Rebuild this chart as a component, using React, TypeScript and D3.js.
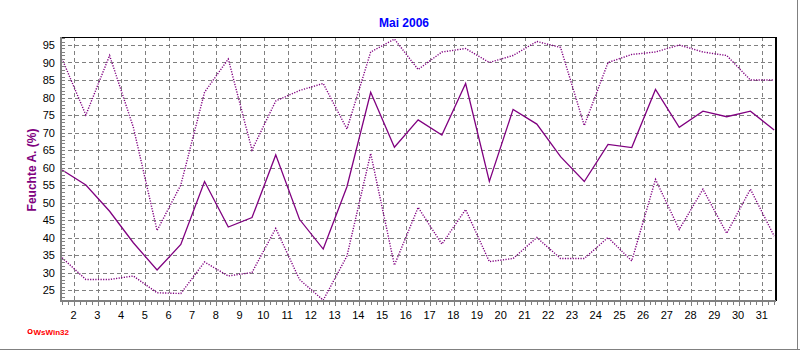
import React from "react";
import * as d3 from "d3";

const days = [1,2,3,4,5,6,7,8,9,10,11,12,13,14,15,16,17,18,19,20,21,22,23,24,25,26,27,28,29,30,31];
const maxVals = [91, 75, 92, 71.5, 42, 55, 81.5, 91, 65, 79, 82, 84, 71, 93, 96.7, 88, 93, 94, 90, 92, 96, 94.3, 72, 90, 92.3, 93, 95, 93, 92, 85, 85];
const meanVals = [59.3, 55, 47.5, 38.5, 30.7, 38, 56, 43, 45.7, 63.6, 45.2, 36.7, 54.5, 81.5, 65.8, 73.6, 69.3, 84, 56, 76.6, 72.4, 63.1, 56, 66.6, 65.7, 82.3, 71.5, 76.1, 74.5, 76.1, 70.7];
const minVals = [34.2, 28, 28, 29, 24.2, 24, 33, 29, 30, 42.6, 28, 22.1, 34.7, 64, 32.1, 48.6, 38.1, 48, 33.1, 34, 40, 34, 34, 40, 33.3, 56.6, 42.3, 53.8, 41.2, 53.8, 40.4];
const yTicks = [25, 30, 35, 40, 45, 50, 55, 60, 65, 70, 75, 80, 85, 90, 95];
const xTicks = [2,3,4,5,6,7,8,9,10,11,12,13,14,15,16,17,18,19,20,21,22,23,24,25,26,27,28,29,30,31];
const title = "Mai 2006";
const yTitle = "Feuchte A. (%)";

const W = 800, H = 350;
const left = 61, right = 775, top = 37, bottom = 300;
const purple = "#800080";
const grey = "#808080";
const font = "'Liberation Sans', Arial, sans-serif";

export default function App() {
  const x = d3.scaleLinear().domain([2, 31]).range([74, 762.3]);
  const y = d3.scaleLinear().domain([25, 95]).range([290, 45]);

  const line = (vals: number[]) =>
    d3.line<number>()
      .x((_, i) => x(days[i] + 0.5))
      .y((v) => y(v))(vals) || "";

  const minorX: number[] = d3.range(1.5, 31.51, 0.25);
  const minorY: number[] = d3.range(23, 98, 1);

  return (
    <svg width={W} height={H} style={{ position: "absolute", left: 0, top: 0, background: "#fff" }}>
      <rect x={0} y={0} width={W} height={H} fill="#fff" />
      {/* title */}
      <text x={404} y={27} textAnchor="middle" fill="#0000ff" fontFamily={font} fontWeight="bold" fontSize={12}>{title}</text>
      {/* grid */}
      <g shapeRendering="crispEdges" stroke={grey} strokeWidth={1} strokeDasharray="4,3">
        {yTicks.map((t) => (
          <line key={"gy" + t} x1={left} x2={right} y1={Math.round(y(t)) + 0.5} y2={Math.round(y(t)) + 0.5} />
        ))}
        {xTicks.map((t) => (
          <line key={"gx" + t} x1={Math.round(x(t)) + 0.5} x2={Math.round(x(t)) + 0.5} y1={top} y2={bottom} />
        ))}
      </g>
      {/* series */}
      <path d={line(maxVals)} fill="none" stroke={purple} strokeWidth={1.4} strokeDasharray="1.2,1.4" />
      <path d={line(minVals)} fill="none" stroke={purple} strokeWidth={1.4} strokeDasharray="1.2,1.4" />
      <path d={line(meanVals)} fill="none" stroke={purple} strokeWidth={1.3} />
      {/* frame */}
      <g shapeRendering="crispEdges">
        <line x1={left} x2={right + 1} y1={top + 0.5} y2={top + 0.5} stroke="#000" strokeWidth={1.5} />
        <line x1={right + 0.5} x2={right + 0.5} y1={top} y2={bottom + 1} stroke="#000" strokeWidth={2} />
        <line x1={left} x2={left} y1={top} y2={bottom + 2} stroke={grey} strokeWidth={2} />
        <line x1={left - 1} x2={right + 1} y1={bottom + 1} y2={bottom + 1} stroke={grey} strokeWidth={2} />
        {minorX.map((t, i) => (
          <line key={"mx" + i} x1={Math.round(x(t)) + 0.5} x2={Math.round(x(t)) + 0.5} y1={bottom + 2} y2={bottom + (Number.isInteger(t) ? 6 : 5)} stroke={grey} strokeWidth={1} />
        ))}
        {minorY.map((t) => (
          <line key={"my" + t} x1={left + 1} x2={left + 4} y1={Math.round(y(t)) + 0.5} y2={Math.round(y(t)) + 0.5} stroke={grey} strokeWidth={1} />
        ))}
      </g>
      {/* y labels */}
      {yTicks.map((t) => (
        <text key={"ly" + t} x={55} y={y(t) + 4} textAnchor="end" fontFamily={font} fontSize={11} fill="#000">{t}</text>
      ))}
      {xTicks.map((t) => (
        <text key={"lx" + t} x={x(t) - 0.5} y={319} textAnchor="middle" fontFamily={font} fontSize={11} fill="#000">{t}</text>
      ))}
      {/* y title */}
      <text transform="translate(36,170) rotate(-90)" textAnchor="middle" fontFamily={font} fontWeight="bold" fontSize={12} fill={purple}>{yTitle}</text>
      {/* logo */}
      <circle cx={30} cy={331.5} r={2} fill="#fff" stroke="#ff0000" strokeWidth={1.2} />
      <text x={33.5} y={334.5} fontFamily={font} fontWeight="bold" fontSize={8} fill="#ff0000">WsWin32</text>
      {/* outer panel edge */}
      <g shapeRendering="crispEdges">
        <line x1={0} x2={W} y1={349.5} y2={349.5} stroke={grey} strokeWidth={1} />
        <line x1={797.5} x2={797.5} y1={0} y2={H} stroke={grey} strokeWidth={1} />
      </g>
    </svg>
  );
}
